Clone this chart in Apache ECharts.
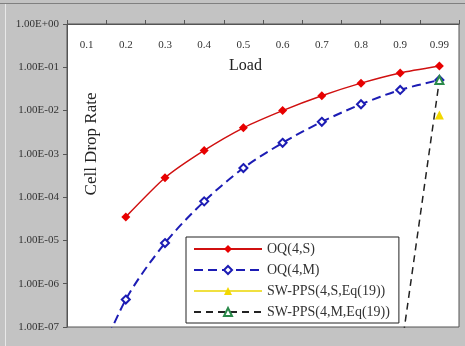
<!DOCTYPE html>
<html>
<head>
<meta charset="utf-8">
<script src="https://cdn.jsdelivr.net/npm/echarts@6/dist/echarts.min.js"></script>
<style>html,body{margin:0;padding:0;background:#c3c3c3;}#c{width:465px;height:346px;}</style>
</head>
<body>
<div id="c"></div>
<script>
const loads = ['0.1','0.2','0.3','0.4','0.5','0.6','0.7','0.8','0.9','0.99'];
const oqS = [null, 3.5e-5, 2.8e-4, 1.2e-3, 4.0e-3, 1.0e-2, 2.2e-2, 4.3e-2, 7.4e-2, 0.107];
const oqM = [4e-9, 4.3e-7, 8.7e-6, 8.0e-5, 4.7e-4, 1.8e-3, 5.5e-3, 1.4e-2, 3.0e-2, 5.1e-2];
const swS = [null, null, null, null, null, null, null, null, null, 7.9e-3];
const swM = [null, null, null, null, null, null, null, null, 2e-8, 5.1e-2];
const names = ['OQ(4,S)', 'OQ(4,M)', 'SW-PPS(4,S,Eq(19))', 'SW-PPS(4,M,Eq(19))'];

function fmtExp(v) {
  const e = Math.round(Math.log10(v));
  const s = e < 0 ? '-' : '+';
  const a = Math.abs(e);
  return '1.00E' + s + (a < 10 ? '0' + a : a);
}

const serif = 'Liberation Serif';
const chart = echarts.init(document.getElementById('c'));
chart.setOption({
  backgroundColor: '#c3c3c3',
  animation: false,
  grid: { left: 67, top: 24, right: 6, bottom: 19, show: true, backgroundColor: '#ffffff', borderColor: '#555', borderWidth: 1 },
  xAxis: {
    type: 'category', data: loads, position: 'top', boundaryGap: true,
    axisLine: { lineStyle: { color: '#555' } },
    axisTick: { show: true, inside: false, length: 4, lineStyle: { color: '#555' } },
    axisLabel: { inside: true, margin: 16, fontFamily: serif, fontSize: 11, color: '#333' },
    splitLine: { show: false }
  },
  yAxis: {
    type: 'log', logBase: 10, min: 1e-7, max: 1,
    axisLine: { show: true, lineStyle: { color: '#555' } },
    axisTick: { show: true, length: 4, lineStyle: { color: '#555' } },
    axisLabel: { formatter: fmtExp, fontFamily: serif, fontSize: 11, color: '#333', margin: 8 },
    splitLine: { show: false }
  },
  legend: {
    orient: 'vertical', left: 186, top: 237,
    backgroundColor: '#ffffff', borderColor: '#222', borderWidth: 1,
    padding: [5, 9, 4, 7], itemWidth: 68, itemHeight: 10, itemGap: 7,
    textStyle: { fontFamily: serif, fontSize: 14, color: '#333' },
    data: names
  },
  graphic: [
    { type: 'text', left: 229, top: 58, style: { text: 'Load', font: '16px "Liberation Serif"', fill: '#222' } },
    { type: 'text', x: 92, y: 144, rotation: Math.PI / 2, style: { text: 'Cell Drop Rate', font: '17px "Liberation Serif"', fill: '#222', align: 'center', verticalAlign: 'middle' } },
    { type: 'line', shape: { x1: 0, y1: 3.5, x2: 465, y2: 3.5 }, style: { stroke: '#808080', lineWidth: 1 } },
    { type: 'line', shape: { x1: 5.5, y1: 4, x2: 5.5, y2: 346 }, style: { stroke: '#e8e8e8', lineWidth: 1 } }
  ],
  series: [
    { name: names[0], type: 'line', data: oqS, smooth: 0.2, symbol: 'diamond', symbolSize: 9,
      itemStyle: { color: '#e80000' }, lineStyle: { color: '#d01010', width: 1.5 } },
    { name: names[1], type: 'line', data: oqM, smooth: 0.3, symbol: 'emptyDiamond', symbolSize: 8,
      itemStyle: { color: '#1c1cb4', borderWidth: 1.5 }, lineStyle: { color: '#1c1cb4', width: 2, type: [9, 5] } },
    { name: names[2], type: 'line', data: swS, symbol: 'triangle', symbolSize: 9,
      itemStyle: { color: '#f2d800' }, lineStyle: { color: '#f0e040', width: 2 } },
    { name: names[3], type: 'line', data: swM, symbol: 'emptyTriangle', symbolSize: 8,
      itemStyle: { color: '#2a8a4a', borderWidth: 1.5 }, lineStyle: { color: '#222', width: 1.5, type: [7, 5] } }
  ]
});
</script>
</body>
</html>
